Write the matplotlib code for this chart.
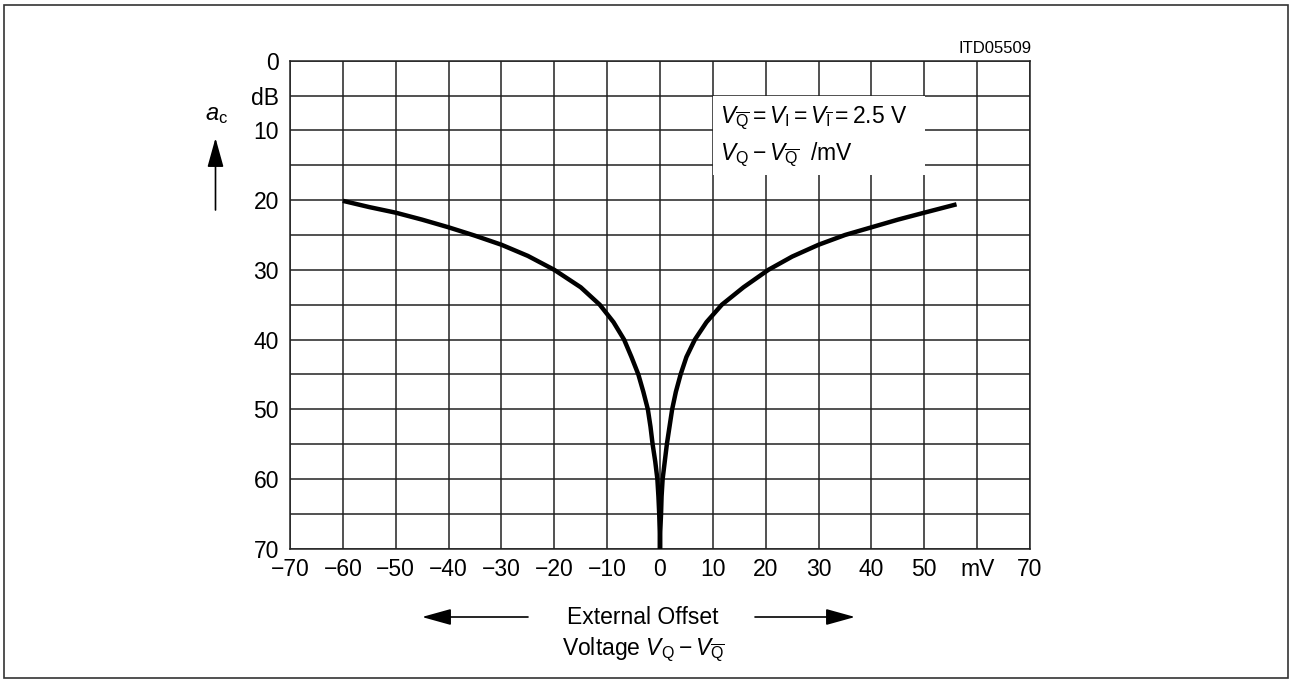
import matplotlib
matplotlib.use("Agg")
import matplotlib.pyplot as plt
from matplotlib.patches import Rectangle, FancyArrowPatch

plt.rcParams['font.family'] = ['Liberation Sans', 'DejaVu Sans']
plt.rcParams['mathtext.fontset'] = 'custom'
plt.rcParams['mathtext.rm'] = 'Liberation Sans'
plt.rcParams['mathtext.it'] = 'Liberation Sans:italic'

# curve: offset voltage (mV) vs a_c (dB)
offset_mv = [-60, -55, -50, -45, -40, -35, -30, -25, -20, -15, -11.4, -8.8, -6.8,
             -5.4, -4.1, -3.15, -2.3, -1.8, -1.4, -0.9, -0.5, -0.3, -0.15, -0.05, 0,
             0.05, 0.2, 0.3, 0.5, 0.9, 1.3, 1.8, 2.3, 3.0, 3.9, 5.0, 6.6, 8.8, 11.7,
             15.8, 20.5, 25, 30, 35, 40, 45, 50, 56.1]
atten_db = [20.1, 21.0, 21.8, 22.8, 23.9, 25.1, 26.4, 28.0, 30.0, 32.5, 35, 37.5, 40,
            42.5, 45, 47.5, 50, 52.5, 55, 57.5, 60, 62.5, 65, 67.5, 70,
            67.5, 65, 62.5, 60, 57.5, 55, 52.5, 50, 47.5, 45, 42.5, 40, 37.5, 35,
            32.5, 30, 28.1, 26.4, 25.0, 23.9, 22.8, 21.8, 20.6]

x_ticks = list(range(-70, 71, 10))
x_labels = ['\u221270', '\u221260', '\u221250', '\u221240', '\u221230', '\u221220',
            '\u221210', '0', '10', '20', '30', '40', '50', 'mV', '70']
y_ticks = list(range(0, 71, 5))
y_labels = ['0', 'dB', '10', '', '20', '', '30', '', '40', '', '50', '', '60', '', '70']

W, H = 1295, 680
fig = plt.figure(figsize=(W / 100, H / 100), dpi=100)
ax = fig.add_axes([290 / W, 1 - 548.7 / H, 740 / W, 488 / H])

ax.plot(offset_mv, atten_db, color='black', lw=3.2, solid_capstyle='butt',
        solid_joinstyle='round', zorder=3)

ax.set_xlim(-70, 70)
ax.set_ylim(70, 0)
ax.set_xticks(x_ticks)
ax.set_xticklabels(x_labels)
ax.set_yticks(y_ticks)
ax.set_yticklabels(y_labels)
ax.tick_params(length=0, labelsize=16.5)
ax.tick_params(axis='x', pad=7)
ax.tick_params(axis='y', pad=8)
ax.set_axisbelow(True)
ax.grid(True, color='#222222', lw=1.1)
for s in ax.spines.values():
    s.set_color('#222222')
    s.set_linewidth(1.1)

# white box behind the condition text
ax.add_patch(Rectangle((0.5716, 0.766), 0.2864, 0.162, transform=ax.transAxes,
                       facecolor='white', edgecolor='none', zorder=1.5))
ax.text(0.581, 0.872,
        r'$V_{\overline{\mathrm{Q}}} = V_{\mathrm{I}} = V_{\overline{\mathrm{I}}} = 2.5\ \mathrm{V}$',
        transform=ax.transAxes, fontsize=16.5, va='baseline', ha='left', zorder=4)
ax.text(0.581, 0.797,
        r'$V_{\mathrm{Q}} - V_{\overline{\mathrm{Q}}}\ \ /\mathrm{mV}$',
        transform=ax.transAxes, fontsize=16.5, va='baseline', ha='left', zorder=4)

fig.text(1032 / W, 1 - 52.7 / H, 'ITD05509', fontsize=12, ha='right', va='baseline')

# y axis label with arrow
fig.text(217 / W, 1 - 120 / H, r'$a_{\mathrm{c}}$', fontsize=17, ha='center', va='baseline')
arrow = dict(arrowstyle='-|>,head_length=0.9,head_width=0.25', color='black',
             lw=1.2, shrinkA=0, shrinkB=0, mutation_scale=20)
fig.add_artist(FancyArrowPatch((215.5 / W, 1 - 210 / H), (215.5 / W, 1 - 138 / H),
                               transform=fig.transFigure, **arrow))

# x axis label with arrows
fig.text(643 / W, 1 - 624 / H, 'External Offset', fontsize=16.5, ha='center', va='baseline')
fig.text(643 / W, 1 - 655 / H, r'Voltage $V_{\mathrm{Q}} - V_{\overline{\mathrm{Q}}}$',
         fontsize=16.5, ha='center', va='baseline')
fig.add_artist(FancyArrowPatch((528 / W, 1 - 617 / H), (422 / W, 1 - 617 / H),
                               transform=fig.transFigure, **arrow))
fig.add_artist(FancyArrowPatch((755 / W, 1 - 617 / H), (855 / W, 1 - 617 / H),
                               transform=fig.transFigure, **arrow))

# outer frame
fig.add_artist(Rectangle((4 / W, 1 - 678 / H), 1284 / W, 673 / H, transform=fig.transFigure,
                         facecolor='none', edgecolor='#333333', lw=1.2))

fig.savefig('out.png', dpi=100)
